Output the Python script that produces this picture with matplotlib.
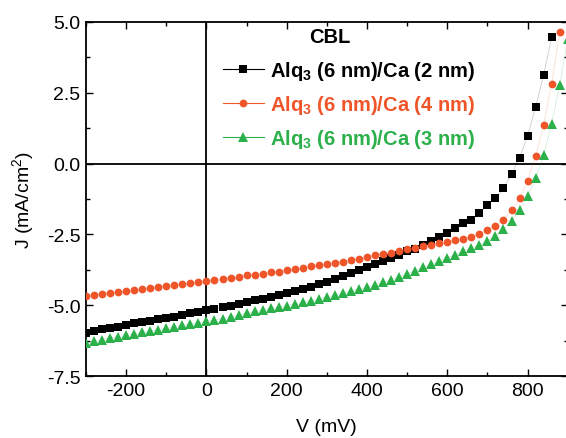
import matplotlib
matplotlib.use('Agg')
import matplotlib.pyplot as plt
from matplotlib.lines import Line2D
from matplotlib.ticker import MultipleLocator
import numpy as np

plt.rcParams['font.family'] = ['Liberation Sans', 'DejaVu Sans']
plt.rcParams['mathtext.fontset'] = 'custom'
plt.rcParams['mathtext.rm'] = 'Liberation Sans'
plt.rcParams['mathtext.bf'] = 'Liberation Sans:bold'
plt.rcParams['axes.unicode_minus'] = False

# bias sweep in mV, 20 mV steps
v_ca2 = np.arange(-300, 861, 20)
v_ca4 = np.arange(-300, 881, 20)
v_ca3 = np.arange(-300, 901, 20)

# current density, mA/cm^2
j_ca2 = [-5.99, -5.90, -5.85, -5.79, -5.75, -5.69, -5.63, -5.59, -5.54, -5.49,
         -5.46, -5.40, -5.34, -5.28, -5.23, -5.18, -5.14, -5.06, -5.02, -4.96,
         -4.89, -4.83, -4.78, -4.72, -4.65, -4.57, -4.50, -4.43, -4.35, -4.26,
         -4.17, -4.08, -3.98, -3.87, -3.76, -3.65, -3.54, -3.43, -3.32, -3.21,
         -3.10, -3.00, -2.87, -2.74, -2.58, -2.44, -2.26, -2.11, -1.99, -1.76,
         -1.46, -1.22, -0.88, -0.37, 0.19, 0.98, 1.98, 3.13, 4.45]
j_ca4 = [-4.66, -4.63, -4.59, -4.57, -4.53, -4.50, -4.47, -4.44, -4.40, -4.37,
         -4.33, -4.30, -4.26, -4.23, -4.19, -4.16, -4.12, -4.09, -4.05, -4.00,
         -3.95, -3.92, -3.88, -3.84, -3.81, -3.77, -3.72, -3.68, -3.63, -3.59,
         -3.54, -3.50, -3.46, -3.41, -3.36, -3.30, -3.24, -3.20, -3.14, -3.08,
         -3.03, -2.97, -2.92, -2.87, -2.82, -2.76, -2.70, -2.65, -2.58, -2.48,
         -2.36, -2.20, -1.99, -1.65, -1.23, -0.61, 0.25, 1.37, 2.82, 4.63]
j_ca3 = [-6.32, -6.27, -6.21, -6.16, -6.11, -6.06, -6.01, -5.96, -5.91, -5.86,
         -5.81, -5.76, -5.71, -5.67, -5.62, -5.57, -5.52, -5.47, -5.41, -5.35,
         -5.29, -5.22, -5.16, -5.11, -5.06, -5.01, -4.95, -4.90, -4.84, -4.78,
         -4.71, -4.64, -4.57, -4.50, -4.43, -4.36, -4.28, -4.19, -4.10, -4.00,
         -3.89, -3.78, -3.66, -3.55, -3.45, -3.33, -3.21, -3.09, -2.97, -2.87,
         -2.73, -2.56, -2.30, -2.03, -1.65, -1.16, -0.52, 0.31, 1.40, 2.76, 4.41]

labels = [r'Alq$_\mathbf{3}$ (6 nm)/Ca (2 nm)',
          r'Alq$_\mathbf{3}$ (6 nm)/Ca (4 nm)',
          r'Alq$_\mathbf{3}$ (6 nm)/Ca (3 nm)']
colors = ['#000000', '#F0552A', '#2BB04A']
markers = ['s', 'o', '^']
sizes = [5.2, 5.6, 6.5]

fig = plt.figure(figsize=(5.66, 4.39), dpi=100)
ax = fig.add_axes([0.152, 0.141, 0.851, 0.807])

ax.axhline(0, color='black', lw=1.3, zorder=1)
ax.axvline(0, color='black', lw=1.3, zorder=1)

series = [(v_ca2, j_ca2), (v_ca4, j_ca4), (v_ca3, j_ca3)]
for (v, j), c, m, s in zip(series, colors, markers, sizes):
    # faint connecting line, mostly hidden under the symbols
    ax.plot(v, j, '-', color=c, lw=0.6, alpha=0.2, zorder=2)
    ax.plot(v, j, m, color=c, ms=s, mew=0, zorder=3)

ax.set_xlim(-300, 900)
ax.set_ylim(-7.5, 5.0)
ax.set_xticks([-200, 0, 200, 400, 600, 800])
ax.set_yticks([-7.5, -5.0, -2.5, 0.0, 2.5, 5.0])
ax.set_yticklabels(['-7.5', '-5.0', '-2.5', '0.0', '2.5', '5.0'])
ax.xaxis.set_minor_locator(MultipleLocator(100))
ax.yaxis.set_minor_locator(MultipleLocator(1.25))

ax.tick_params(which='both', direction='in', top=True, right=True, width=1.0, labelsize=14)
ax.tick_params(which='major', length=5, pad=4)
ax.tick_params(which='minor', length=3)
for sp in ax.spines.values():
    sp.set_linewidth(1.3)

ax.set_xlabel('V (mV)', fontsize=14, labelpad=14)
ax.set_ylabel(r'J (mA/cm$^2$)', fontsize=14, labelpad=7)

handles = [Line2D([], [], color=c, marker=m, ms=s, mew=0, lw=0.8)
           for c, m, s in zip(colors, markers, sizes)]
leg = ax.legend(handles, labels, loc='upper left', bbox_to_anchor=(0.285, 0.896),
                frameon=False, borderpad=0, borderaxespad=0,
                handlelength=2.0, handletextpad=0.3, labelspacing=0.55,
                prop={'weight': 'bold', 'size': 14.5})
for txt, c in zip(leg.get_texts(), colors):
    txt.set_color(c)

ax.text(0.506, 0.958, 'CBL', transform=ax.transAxes, ha='center', va='center',
        fontsize=14.5, fontweight='bold')

fig.savefig('out.png', dpi=100)
